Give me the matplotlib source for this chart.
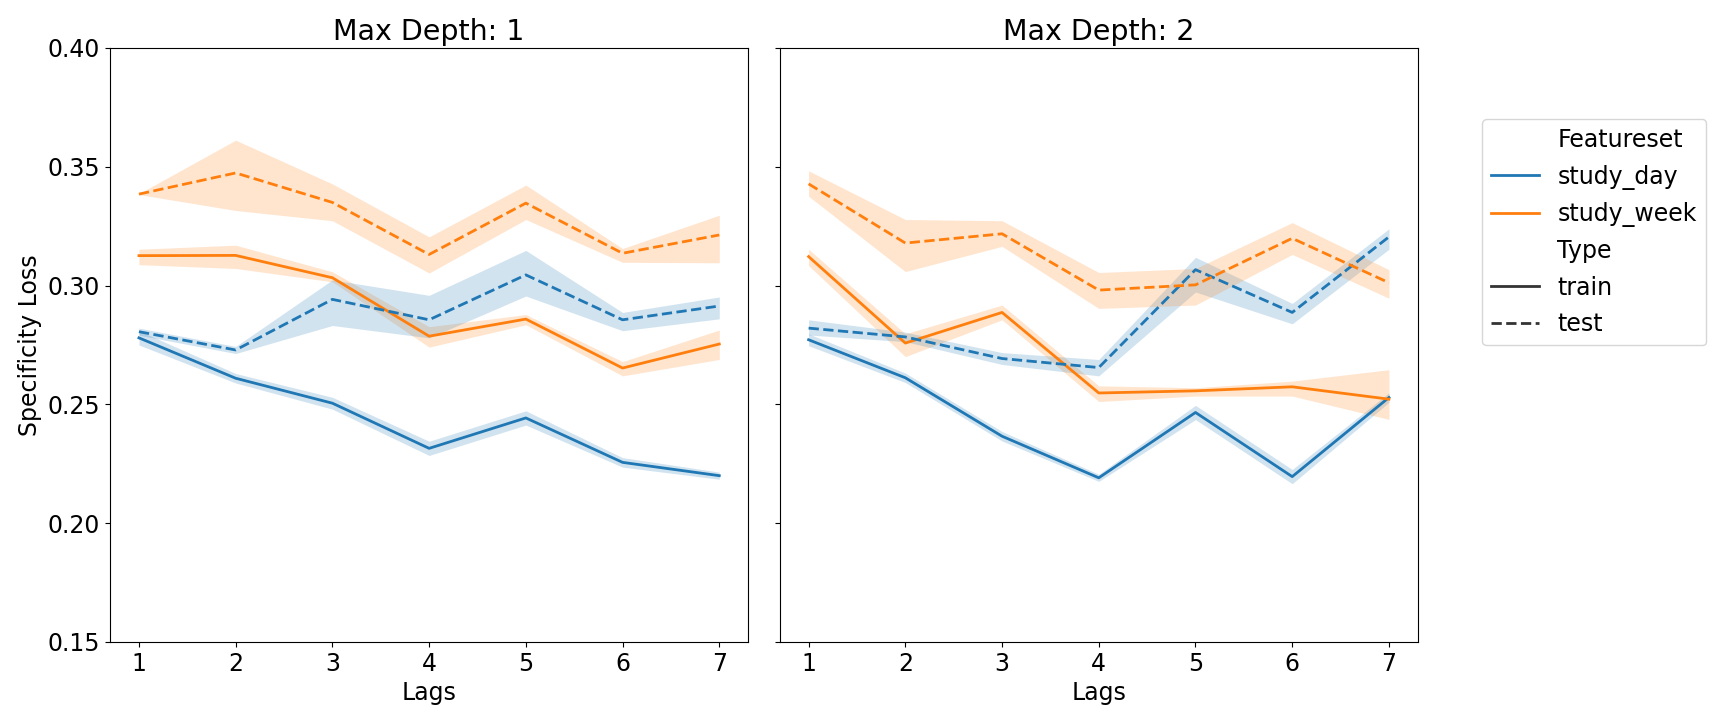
import matplotlib
matplotlib.use("Agg")
import matplotlib.pyplot as plt
from matplotlib.lines import Line2D

lags = [1, 2, 3, 4, 5, 6, 7]

# Max Depth 1
d1_day_train = [0.278, 0.261, 0.2505, 0.2315, 0.2443, 0.2256, 0.220]
d1_day_train_lo = [0.275, 0.259, 0.248, 0.2285, 0.2413, 0.2236, 0.2185]
d1_day_train_hi = [0.281, 0.263, 0.253, 0.2345, 0.2473, 0.2276, 0.2215]
d1_day_test = [0.2806, 0.2729, 0.2942, 0.2856, 0.3045, 0.2856, 0.2914]
d1_day_test_lo = [0.2791, 0.2714, 0.2832, 0.278, 0.2956, 0.281, 0.286]
d1_day_test_hi = [0.2821, 0.2744, 0.3024, 0.2959, 0.3148, 0.2887, 0.2952]
d1_week_train = [0.3126, 0.3127, 0.3033, 0.2787, 0.2859, 0.2653, 0.2754]
d1_week_train_lo = [0.3088, 0.3072, 0.3016, 0.2741, 0.2835, 0.262, 0.2689]
d1_week_train_hi = [0.3153, 0.317, 0.3058, 0.2827, 0.2878, 0.268, 0.2813]
d1_week_test = [0.3385, 0.3474, 0.335, 0.3131, 0.3347, 0.3136, 0.3213]
d1_week_test_lo = [0.3383, 0.3316, 0.3273, 0.3053, 0.3278, 0.3098, 0.3096]
d1_week_test_hi = [0.3387, 0.3612, 0.3428, 0.3205, 0.3423, 0.3156, 0.3296]

# Max Depth 2
d2_day_train = [0.2772, 0.2612, 0.2366, 0.2191, 0.2466, 0.2196, 0.2529]
d2_day_train_lo = [0.2747, 0.2592, 0.2346, 0.2176, 0.2436, 0.2166, 0.2509]
d2_day_train_hi = [0.2797, 0.2632, 0.2386, 0.2206, 0.2496, 0.2226, 0.2549]
d2_day_test = [0.2821, 0.2784, 0.2693, 0.2655, 0.3067, 0.2887, 0.3205]
d2_day_test_lo = [0.2792, 0.2764, 0.2668, 0.262, 0.2973, 0.2839, 0.3153]
d2_day_test_hi = [0.2856, 0.2804, 0.2718, 0.2689, 0.3119, 0.2925, 0.3239]
d2_week_train = [0.3122, 0.2758, 0.2887, 0.2548, 0.2557, 0.2574, 0.2522]
d2_week_train_lo = [0.3084, 0.2701, 0.2856, 0.2512, 0.2535, 0.2535, 0.2437]
d2_week_train_hi = [0.3153, 0.2797, 0.2918, 0.2578, 0.257, 0.2598, 0.2646]
d2_week_test = [0.3428, 0.3179, 0.3218, 0.2981, 0.3003, 0.3199, 0.3012]
d2_week_test_lo = [0.3376, 0.3059, 0.3165, 0.2904, 0.2918, 0.3131, 0.2947]
d2_week_test_hi = [0.3483, 0.3278, 0.3273, 0.3055, 0.3072, 0.3265, 0.3067]

blue = "#1f77b4"
orange = "#ff7f0e"

plt.rcParams["font.size"] = 17

fig, axes = plt.subplots(1, 2, figsize=(17.15, 7.15), dpi=100, sharey=True)
fig.subplots_adjust(left=0.0641, right=0.8268, bottom=0.1021, top=0.9329, wspace=0.049)

panels = [
    (axes[0], "Max Depth: 1", [
        (d1_day_train, d1_day_train_lo, d1_day_train_hi, blue, "-"),
        (d1_week_train, d1_week_train_lo, d1_week_train_hi, orange, "-"),
        (d1_day_test, d1_day_test_lo, d1_day_test_hi, blue, "--"),
        (d1_week_test, d1_week_test_lo, d1_week_test_hi, orange, "--"),
    ]),
    (axes[1], "Max Depth: 2", [
        (d2_day_train, d2_day_train_lo, d2_day_train_hi, blue, "-"),
        (d2_week_train, d2_week_train_lo, d2_week_train_hi, orange, "-"),
        (d2_day_test, d2_day_test_lo, d2_day_test_hi, blue, "--"),
        (d2_week_test, d2_week_test_lo, d2_week_test_hi, orange, "--"),
    ]),
]

for ax, title, series in panels:
    for mean, lo, hi, color, ls in series:
        ax.fill_between(lags, lo, hi, color=color, alpha=0.2, linewidth=0)
        ax.plot(lags, mean, color=color, linestyle=ls, linewidth=2)
    ax.set_title(title, fontsize=20.5)
    ax.set_xlabel("Lags")
    ax.set_xticks(lags)
    ax.set_ylim(0.15, 0.40)
    ax.set_yticks([0.15, 0.20, 0.25, 0.30, 0.35, 0.40])

axes[0].set_ylabel("Specificity Loss")

# legend like seaborn's hue/style legend
handles = [
    Line2D([], [], color="none"),
    Line2D([], [], color=blue, linewidth=2),
    Line2D([], [], color=orange, linewidth=2),
    Line2D([], [], color="none"),
    Line2D([], [], color="#333333", linewidth=2),
    Line2D([], [], color="#333333", linewidth=2, linestyle="--"),
]
labels = ["Featureset", "study_day", "study_week", "Type", "train", "test"]
fig.legend(handles, labels, loc="upper left", bbox_to_anchor=(0.8641, 0.8336),
           fontsize=17, borderaxespad=0, labelspacing=0.52)

fig.savefig("out.png")
